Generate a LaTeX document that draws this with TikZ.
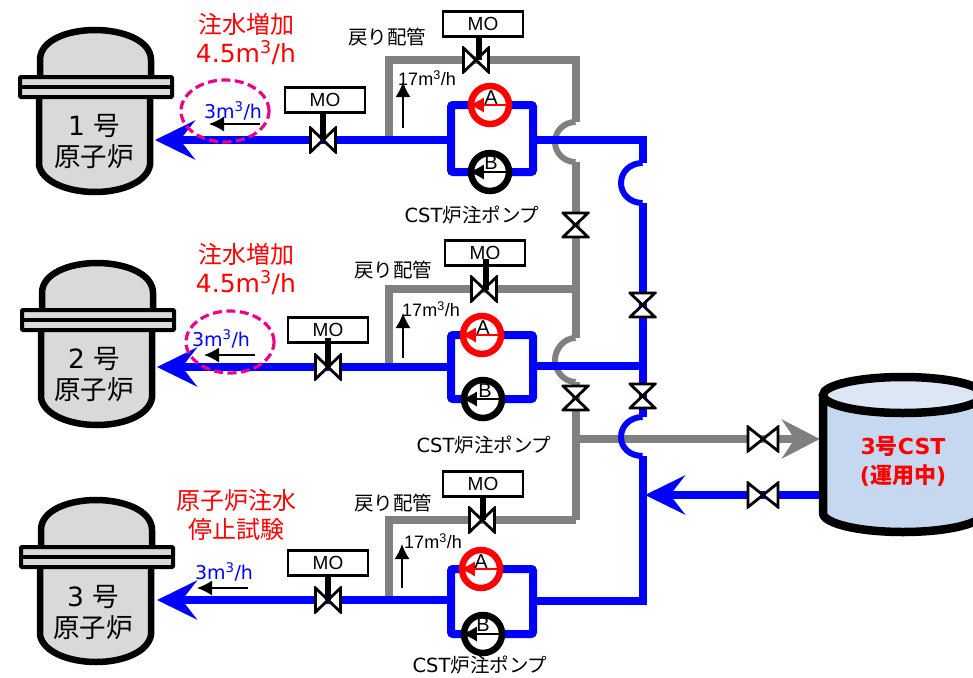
\documentclass[tikz,border=0pt]{standalone}
\usepackage{fontspec}
\setmainfont{DejaVu Sans}
\newfontfamily\cjk{Noto Sans CJK JP}
\newfontfamily\arialfont{Liberation Sans}
\usepackage{tikz}
\usetikzlibrary{arrows.meta,positioning,calc,shapes.geometric,backgrounds}
\definecolor{pipeblue}{RGB}{0,0,255}
\definecolor{pipegray}{RGB}{128,128,128}
\definecolor{vesselfill}{RGB}{217,217,217}
\definecolor{tanktop}{RGB}{220,230,244}
\definecolor{tankbody}{RGB}{197,216,240}
\tikzset{
  bluepipe/.style={draw=pipeblue,line width=8pt},
  graypipe/.style={draw=pipegray,line width=8pt},
  bluebump/.style={draw=pipeblue,line width=6pt},
  graybump/.style={draw=pipegray,line width=6pt},
  bigblue/.style={-{Stealth[length=40pt,width=39pt,inset=15pt]}},
  biggray/.style={-{Stealth[length=38pt,width=39pt,inset=13pt]}},
  hvalve/.style={minimum width=33pt,minimum height=27pt,inner sep=0pt,
    path picture={\draw[fill=white,line width=2.8pt]
      ([shift={(1.5pt,-1.5pt)}]path picture bounding box.north west) --
      ([shift={(-1.5pt,1.5pt)}]path picture bounding box.south east) --
      ([shift={(-1.5pt,-1.5pt)}]path picture bounding box.north east) --
      ([shift={(1.5pt,1.5pt)}]path picture bounding box.south west) -- cycle;}},
  nvalve/.style={hvalve,minimum width=28pt},
  vvalve/.style={minimum width=28pt,minimum height=27pt,inner sep=0pt,
    path picture={\draw[fill=white,line width=2.8pt]
      ([shift={(1.5pt,-1.5pt)}]path picture bounding box.north west) --
      ([shift={(-1.5pt,-1.5pt)}]path picture bounding box.north east) --
      ([shift={(1.5pt,1.5pt)}]path picture bounding box.south west) --
      ([shift={(-1.5pt,1.5pt)}]path picture bounding box.south east) -- cycle;}},
  pumpA/.style={draw=red,fill=white,circle,line width=6.5pt,minimum size=38pt,inner sep=0pt},
  pumpB/.style={draw=black,fill=white,circle,line width=6.5pt,minimum size=38pt,inner sep=0pt},
  flowtip/.style={-{Latex[length=15pt,width=15pt]},line width=1.5pt,shorten >=1pt},
  mobox/.style={draw,fill=white,line width=2.4pt,minimum width=80pt,minimum height=25pt,inner sep=0pt,
    font=\arialfont\fontsize{19}{20}\selectfont},
  stem/.style={line width=5.5pt},
  letter/.style={font=\arialfont\fontsize{20}{20}\selectfont,inner sep=0pt},
  rate/.style={font=\arialfont\fontsize{18}{20}\selectfont,inner sep=0pt},
  bluerate/.style={text=pipeblue,font=\fontsize{19}{20}\selectfont,inner sep=0pt},
  redtext/.style={text=red,font=\fontsize{25}{30}\selectfont,inner sep=0pt},
  redjp/.style={text=red,font=\cjk\fontsize{24}{29}\selectfont,inner sep=0pt,align=center},
  tag/.style={font=\cjk\fontsize{19.5}{20}\selectfont,inner sep=0pt},
  pumptag/.style={font=\fontsize{19.5}{20}\selectfont,inner sep=0pt},
  vesseltext/.style={font=\fontsize{26.5}{31}\selectfont,align=center,inner sep=0pt},
  flowring/.style={draw=magenta,dashed,ellipse,line width=3.2pt,dash pattern=on 9pt off 4.5pt,inner sep=0pt},
  vessel/.pic={
    \filldraw[fill=vesselfill,line width=6.5pt] (40,76) -- (40,60) .. controls (40,40) and (68,30) .. (95,30)
      .. controls (122,30) and (151,40) .. (151,60) -- (151,76);
    \filldraw[fill=vesselfill,line width=6.5pt] (39,98) -- (39,165) .. controls (42,182) and (68,192) .. (95,192)
      .. controls (122,192) and (147,182) .. (150,165) -- (150,98);
    \filldraw[fill=vesselfill,line width=4pt,rounded corners=1pt] (20,77) rectangle (172,97);
    \draw[line width=3.5pt] (20,87) -- (172,87);
  }
}

\begin{document}
\begin{tikzpicture}[x=1pt,y=-1pt,>=Latex]
  \useasboundingbox (0,0) rectangle (973,677);

  \pic at (0,0) {vessel};
  \pic at (2,233) {vessel};
  \pic at (1,470) {vessel};
  \node[vesseltext] (r1) at (94,142) {1 {\cjk 号}\\{\cjk 原子炉}};
  \node[vesseltext] (r2) at (94,375) {2 {\cjk 号}\\{\cjk 原子炉}};
  \node[vesseltext] (r3) at (93,613) {3 {\cjk 号}\\{\cjk 原子炉}};
  \coordinate (in1) at (155,140);
  \coordinate (in2) at (157,367);
  \coordinate (in3) at (157,600);

  \node[nvalve] (main1) at (323,140) {};
  \node[nvalve] (main2) at (328,367) {};
  \node[nvalve] (main3) at (328,600) {};
  \node[mobox] (mo1) at (325,100) {MO};
  \node[mobox] (mo2) at (328,330) {MO};
  \node[mobox] (mo3) at (328,563) {MO};
  \node[nvalve] (ret1) at (476,60) {};
  \node[nvalve] (ret2) at (484,289) {};
  \node[nvalve] (ret3) at (482,520) {};
  \node[mobox] (rmo1) at (483,24) {MO};
  \node[mobox] (rmo2) at (485,253) {MO};
  \node[mobox] (rmo3) at (483,484) {MO};

  \node[pumpA] (pa1) at (490,105) {};
  \node[pumpB] (pb1) at (490,172) {};
  \node[pumpA] (pa2) at (482,335) {};
  \node[pumpB] (pb2) at (483,399) {};
  \node[pumpA] (pa3) at (481,569) {};
  \node[pumpB] (pb3) at (483,634) {};

  \node[vvalve] (hv1) at (575.5,225) {};
  \node[vvalve] (hv2) at (575.5,398) {};
  \node[vvalve] (bv1) at (642.5,305) {};
  \node[vvalve] (bv2) at (642.5,396) {};
  \node[hvalve] (cv1) at (763,439) {};
  \node[hvalve] (cv2) at (763,495) {};

  \begin{scope}
    \clip (800,350) rectangle (973,560);
    \filldraw[fill=tankbody,line width=8.5pt] (823,395) -- (823,513) arc[start angle=180,end angle=360,x radius=80,y radius=-19] -- (983,395);
    \filldraw[fill=tanktop,line width=8.5pt] (903,395) ellipse[x radius=80,y radius=18];
  \end{scope}
  \node[font=\bfseries\fontsize{22}{29}\selectfont,text=red,align=center,inner sep=0pt,minimum width=166pt] (cst) at (903,461)
    {3{\cjk\bfseries 号}CST\\({\cjk\bfseries 運用中})};

  \coordinate (tl1) at (451,140);
  \coordinate (tr1) at (533,140);
  \coordinate (tl2) at (451,367);
  \coordinate (tr2) at (533,366);
  \coordinate (tl3) at (451,600);
  \coordinate (tr3) at (533,601);
  \coordinate (rs1) at (389,140);
  \coordinate (rs2) at (389,371);
  \coordinate (rs3) at (389,598);
  \coordinate (hd1) at (575.5,60);
  \coordinate (hd2) at (575.5,289);
  \coordinate (hd3) at (575.5,520);
  \coordinate (hdc) at (575.5,439);
  \coordinate (rb1) at (642.5,140);
  \coordinate (rb2) at (642.5,366);
  \coordinate (rb3) at (642.5,601);

  \begin{scope}[on background layer]
    \draw[graypipe] (rs1) |- (ret1.center) -- (hd1) -- (575.5,122);
    \draw[graybump] (575.5,122) .. controls (564,122) and (555,131) .. (555,142) .. controls (555,153) and (564,162) .. (575.5,162);
    \draw[graypipe] (575.5,162) -- (hv1.center) -- (575.5,338);
    \draw[graybump] (575.5,338) .. controls (564,338) and (555,349) .. (555,360) .. controls (555,371) and (564,382) .. (575.5,382);
    \draw[graypipe] (575.5,382) -- (hv2.center) -- (hd3);
    \draw[graypipe] (rs2) |- (ret2.center) -- (hd2);
    \draw[graypipe] (rs3) |- (ret3.center) -- (hd3);
    \draw[graypipe,biggray] (hdc) -- (cv1.center) -- (cst.west |- cv1);
    \draw[bluepipe,bigblue] (tl1) -- (main1.center) -- (in1);
    \draw[bluepipe,bigblue] (tl2) -- (main2.center) -- (in2);
    \draw[bluepipe,bigblue] (tl3) -- (main3.center) -- (in3);
    \draw[bluepipe,rounded corners=2pt] (pa1.center) -| (tl1) |- (pb1.center) -| (tr1) |- cycle;
    \draw[bluepipe,rounded corners=2pt] (pa2.center) -| (tl2) |- (pb2.center) -| (tr2) |- cycle;
    \draw[bluepipe,rounded corners=2pt] (pa3.center) -| (tl3) |- (pb3.center) -| (tr3) |- cycle;
    \draw[bluepipe] (tr1) -- (rb1) -- (642.5,163);
    \draw[bluebump] (642.5,163) .. controls (630,163) and (621,172) .. (621,183) .. controls (621,194) and (630,203) .. (642.5,203);
    \draw[bluepipe] (642.5,203) -- (bv1.center) -- (bv2.center) -- (642.5,417);
    \draw[bluebump] (642.5,417) .. controls (630,417) and (621,426) .. (621,437) .. controls (621,448) and (630,456) .. (642.5,456);
    \draw[bluepipe] (642.5,456) -- (rb3) -- (tr3);
    \draw[bluepipe] (tr2) -- (rb2);
    \draw[bluepipe,bigblue] (cst.west |- cv2) -- (cv2.center) -- (645,495);
  \end{scope}

  \draw[stem] (mo1.south -| main1) -- (main1.center);
  \draw[stem] (main2.center |- 0,338) -- (main2.center);
  \draw[stem] (mo3.south -| main3) -- (main3.center);
  \draw[stem] (rmo1.south) ++(-4,0) -- (479,60);
  \draw[stem] (486,259) -- (486,290);
  \draw[stem] (rmo3.south) -- (rmo3.south |- ret3);

  \draw[flowtip,red] (pa1.east) -- (pa1.west);
  \draw[flowtip] (pb1.east) -- (pb1.west);
  \draw[flowtip,red] (pa2.east) -- (pa2.west);
  \draw[flowtip] (pb2.east) -- (pb2.west);
  \draw[flowtip,red] (pa3.east) -- (pa3.west);
  \draw[flowtip] (pb3.east) -- (pb3.west);
  \node[letter] (la1) at (491,98) {A};
  \node[letter] (lb1) at (491,163) {B};
  \node[letter] (la2) at (483,328) {A};
  \node[letter] (lb2) at (485,391) {B};
  \node[letter] (la3) at (481,562) {A};
  \node[letter] (lb3) at (483,625) {B};

  \node[redjp] (add1) at (246,24) {注水増加};
  \node[redtext] (rate1) at (246,53) {4.5m\textsuperscript{3}/h};
  \node[redjp] (add2) at (246,254) {注水増加};
  \node[redtext] (rate2) at (246,283) {4.5m\textsuperscript{3}/h};
  \node[redjp] (stop3) at (236,515) {原子炉注水\\停止試験};

  \node[bluerate] (q1) at (233,111) {3m\textsuperscript{3}/h};
  \node[bluerate] (q2) at (221,339) {3m\textsuperscript{3}/h};
  \node[bluerate] (q3) at (224,572) {3m\textsuperscript{3}/h};
  \coordinate (qa1) at (260,124);
  \coordinate (qa2) at (255,355);
  \coordinate (qa3) at (248,588);
  \draw[flowtip] (qa1) -- ++(-52,0);
  \draw[flowtip] (qa2) -- ++(-52,0);
  \draw[flowtip] (qa3) -- ++(-52,0);
  \node[flowring,minimum width=88pt,minimum height=62pt] (ring1) at (225,111) {};
  \node[flowring,minimum width=88pt,minimum height=62pt] (ring2) at (230,342) {};

  \node[tag] (back1) at (387,37) {戻り配管};
  \node[tag] (back2) at (393,270) {戻り配管};
  \node[tag] (back3) at (393,503) {戻り配管};
  \node[rate] (r17a) at (427,78) {17m\textsuperscript{3}/h};
  \node[rate] (r17b) at (431,309) {17m\textsuperscript{3}/h};
  \node[rate] (r17c) at (433,541) {17m\textsuperscript{3}/h};
  \coordinate (up1) at (403,128);
  \coordinate (up2) at (403,358);
  \coordinate (up3) at (402,588);
  \draw[flowtip] (up1) -- ++(0,-47);
  \draw[flowtip] (up2) -- ++(0,-46);
  \draw[flowtip] (up3) -- ++(0,-45);
  \node[pumptag] (cp1) at (472,215) {CST{\cjk 炉注ポンプ}};
  \node[pumptag] (cp2) at (484,445) {CST{\cjk 炉注ポンプ}};
  \node[pumptag] (cp3) at (480,665.5) {CST{\cjk 炉注ポンプ}};
\end{tikzpicture}
\end{document}
